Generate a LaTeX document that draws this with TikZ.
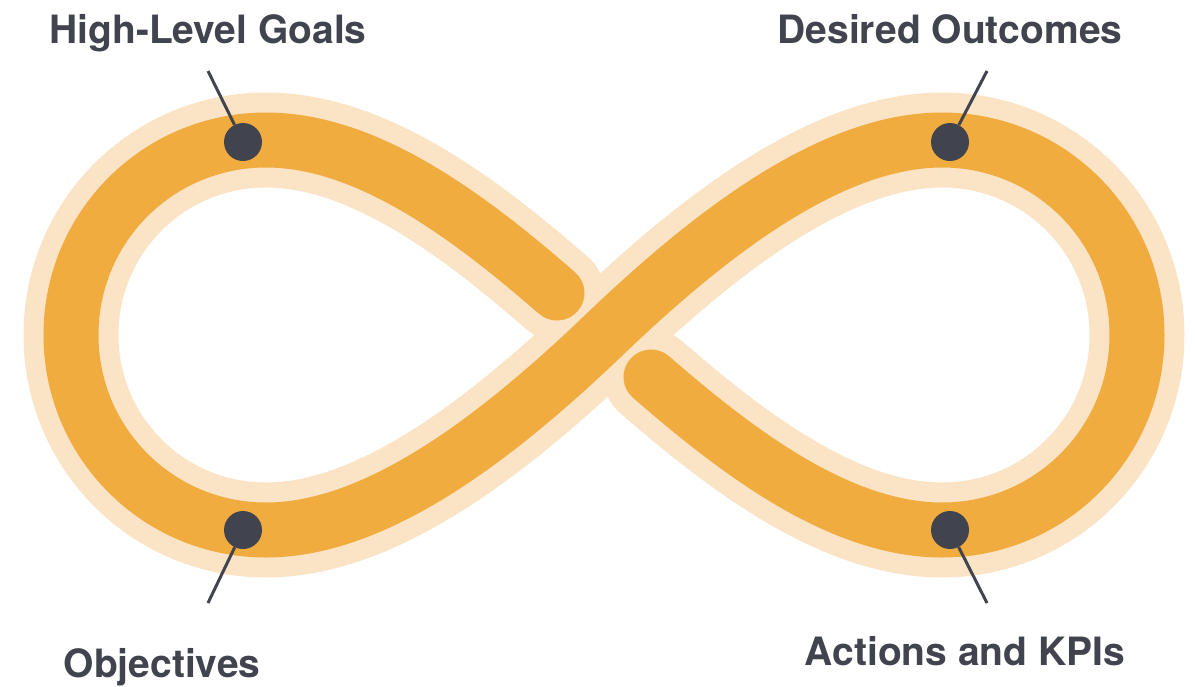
\documentclass[tikz,border=0pt]{standalone}
\usepackage{fontspec}
\setmainfont{TeX Gyre Heros}
\definecolor{orng}{HTML}{F0AC3E}
\definecolor{halo}{HTML}{FBE3C6}
\definecolor{ink}{HTML}{41444E}
\begin{document}
\begin{tikzpicture}[x=1pt,y=-1pt,
  haloline/.style={line width=95pt, draw=halo, line cap=round, line join=round},
  loopline/.style={line width=55pt, draw=orng, line cap=round, line join=round},
  dotnode/.style={circle, fill=ink, minimum size=38pt, inner sep=0pt},
  lbl/.style={font=\fontsize{39}{39}\selectfont\bfseries, text=ink, anchor=base, inner sep=0pt},
  leader/.style={draw=ink, line width=3pt}]
\useasboundingbox (0,0) rectangle (1195,686);
% halo
\draw[haloline] (557,293) .. controls (474,221) and (370,140) .. (266,140)
  .. controls (158,140) and (71,227) .. (71,335)
  .. controls (71,443) and (158,530) .. (266,530)
  .. controls (376,530) and (496,438.5) .. (604,335)
  .. controls (712,231.5) and (832,140) .. (942,140)
  .. controls (1050,140) and (1137,227) .. (1137,335)
  .. controls (1137,443) and (1050,530) .. (942,530)
  .. controls (838,530) and (734,449) .. (651,377);
% orange band
\draw[loopline] (557,293) .. controls (474,221) and (370,140) .. (266,140)
  .. controls (158,140) and (71,227) .. (71,335)
  .. controls (71,443) and (158,530) .. (266,530)
  .. controls (376,530) and (496,438.5) .. (604,335)
  .. controls (712,231.5) and (832,140) .. (942,140)
  .. controls (1050,140) and (1137,227) .. (1137,335)
  .. controls (1137,443) and (1050,530) .. (942,530)
  .. controls (838,530) and (734,449) .. (651,377);
% leader ends
\coordinate (e1) at (208,71);
\coordinate (e2) at (987,71);
\coordinate (e3) at (208,603);
\coordinate (e4) at (987,603);
% dots
\node[dotnode] (d1) at (243,142) {};
\node[dotnode] (d2) at (950,142) {};
\node[dotnode] (d3) at (243,530) {};
\node[dotnode] (d4) at (950,530) {};
\draw[leader] (d1) -- (e1);
\draw[leader] (d2) -- (e2);
\draw[leader] (d3) -- (e3);
\draw[leader] (d4) -- (e4);
% labels
\node[lbl] (l1) at (208,43) {High-Level Goals};
\node[lbl] (l2) at (950,43) {Desired Outcomes};
\node[lbl] (l3) at (162,677) {Objectives};
\node[lbl] (l4) at (965,665) {Actions and KPIs};
\end{tikzpicture}
\end{document}
